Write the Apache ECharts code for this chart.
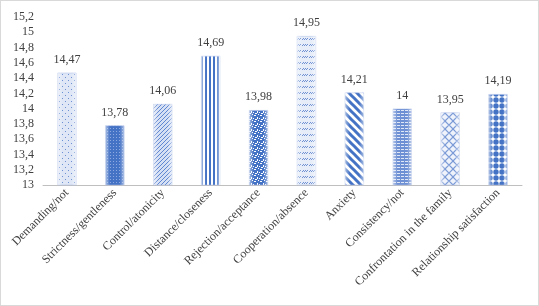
<!DOCTYPE html>
<html>
<head>
<meta charset="utf-8">
<script src="https://cdn.jsdelivr.net/npm/echarts@6/dist/echarts.min.js"></script>
<style>
  html, body { margin: 0; padding: 0; background: #fff; }
  #chart { width: 539px; height: 306px; box-sizing: border-box; border: 1px solid #d9d9d9; }
</style>
</head>
<body>
<div id="chart"></div>
<script>
// values
const categories = [
  "Demanding/not", "Strictness/gentleness", "Control/atonicity", "Distance/closeness",
  "Rejection/acceptance", "Cooperation/absence", "Anxiety", "Consistency/not",
  "Confrontation in the family", "Relationship satisfaction"
];
const values = [14.47, 13.78, 14.06, 14.69, 13.98, 14.95, 14.21, 14, 13.95, 14.19];
const yMin = 13, yMax = 15.2, yStep = 0.2;

const BLUE = "#4472c4";

// small tile helper -> canvas pattern
function tile(w, h, draw) {
  const c = document.createElement("canvas");
  c.width = w; c.height = h;
  const g = c.getContext("2d");
  draw(g, w, h);
  return { image: c, repeat: "repeat" };
}
function px(g, col, pts) {
  g.fillStyle = col;
  for (const p of pts) g.fillRect(p[0], p[1], p[2] || 1, p[3] || 1);
}

const patterns = [
  // dotted light
  tile(6, 6, (g, w, h) => { px(g, "#dfe7f6", [[0, 0, w, h]]); px(g, "#6d8fd3", [[1, 1], [4, 4]]); }),
  // dense dark
  tile(3, 3, (g, w, h) => { px(g, BLUE, [[0, 0, w, h]]); px(g, "#8eaae0", [[1, 1]]); }),
  // fine upward diagonal
  tile(4, 4, (g, w, h) => {
    px(g, "#d6e0f4", [[0, 0, w, h]]);
    px(g, "#5f86d0", [[3, 0], [2, 1], [1, 2], [0, 3]]);
  }),
  // vertical stripes
  tile(4, 1, (g) => { px(g, "#ffffff", [[0, 0, 4, 1]]); px(g, BLUE, [[0, 0, 2, 1]]); }),
  // confetti
  tile(6, 6, (g, w, h) => {
    px(g, BLUE, [[0, 0, w, h]]);
    px(g, "#ffffff", [[1, 0, 2, 1], [4, 2, 1, 2], [0, 3, 1, 1], [2, 4, 2, 1], [5, 5]]);
  }),
  // light with small zigzags
  tile(7, 6, (g, w, h) => {
    px(g, "#e6edf8", [[0, 0, w, h]]);
    px(g, "#6f91d4", [[0, 2], [1, 1], [2, 2], [3, 1], [4, 2], [5, 1]]);
  }),
  // wide downward diagonal
  tile(8, 8, (g) => {
    g.fillStyle = "#ffffff"; g.fillRect(0, 0, 8, 8);
    g.strokeStyle = BLUE; g.lineWidth = 3;
    g.beginPath();
    g.moveTo(-4, -4); g.lineTo(12, 12);
    g.moveTo(-12, -4); g.lineTo(4, 12);
    g.moveTo(4, -4); g.lineTo(20, 12);
    g.stroke();
  }),
  // small horizontal brick
  tile(4, 3, (g, w, h) => {
    px(g, "#6d8fd3", [[0, 0, w, h]]);
    px(g, "#dfe7f6", [[0, 1, 3, 1]]);
  }),
  // outlined lattice
  tile(8, 8, (g) => {
    g.fillStyle = "#eef2fa"; g.fillRect(0, 0, 8, 8);
    g.strokeStyle = "#7b9ad7"; g.lineWidth = 1.2;
    g.beginPath();
    g.moveTo(0, 4); g.lineTo(4, 0); g.lineTo(8, 4); g.lineTo(4, 8); g.closePath();
    g.stroke();
  }),
  // big dots
  tile(6, 6, (g) => {
    g.fillStyle = "#ffffff"; g.fillRect(0, 0, 6, 6);
    g.fillStyle = BLUE;
    g.beginPath(); g.arc(3, 3, 2.7, 0, Math.PI * 2); g.fill();
  })
];

const fmt = (v) => String(+v.toFixed(2)).replace(".", ",");

const chart = echarts.init(document.getElementById("chart"), null, { renderer: "canvas" });

chart.setOption({
  animation: false,
  backgroundColor: "#fff",
  grid: { left: 42, right: 16, top: 16, bottom: 120, containLabel: false },
  xAxis: {
    type: "category",
    data: categories,
    axisLine: { lineStyle: { color: "#bfbfbf", width: 1 } },
    axisTick: { show: false },
    axisLabel: {
      interval: 0,
      rotate: 45,
      margin: 6,
      fontFamily: "Liberation Serif",
      fontSize: 12,
      color: "#404040"
    }
  },
  yAxis: {
    type: "value",
    min: yMin,
    max: yMax,
    interval: yStep,
    axisLine: { show: false },
    axisTick: { show: false },
    splitLine: { show: false },
    axisLabel: {
      margin: 9,
      fontFamily: "Liberation Serif",
      fontSize: 12,
      color: "#404040",
      formatter: (v) => fmt(v)
    }
  },
  series: [
    {
      type: "bar",
      barWidth: 19,
      data: values.map((v, i) => ({
        value: v,
        itemStyle: { color: patterns[i], borderColor: "#aabde6", borderWidth: 0.5 }
      })),
      label: {
        show: true,
        position: "top",
        distance: 7,
        fontFamily: "Liberation Serif",
        fontSize: 12,
        color: "#404040",
        formatter: (p) => fmt(p.value)
      }
    },
    {
      // soft light edges over the patterns
      type: "bar",
      barWidth: 19,
      barGap: "-100%",
      silent: true,
      z: 3,
      data: values,
      itemStyle: {
        color: {
          type: "linear", x: 0, y: 0, x2: 1, y2: 0,
          colorStops: [
            { offset: 0, color: "rgba(255,255,255,0.55)" },
            { offset: 0.25, color: "rgba(255,255,255,0)" },
            { offset: 0.75, color: "rgba(255,255,255,0)" },
            { offset: 1, color: "rgba(255,255,255,0.55)" }
          ]
        }
      }
    }
  ]
});
</script>
</body>
</html>
